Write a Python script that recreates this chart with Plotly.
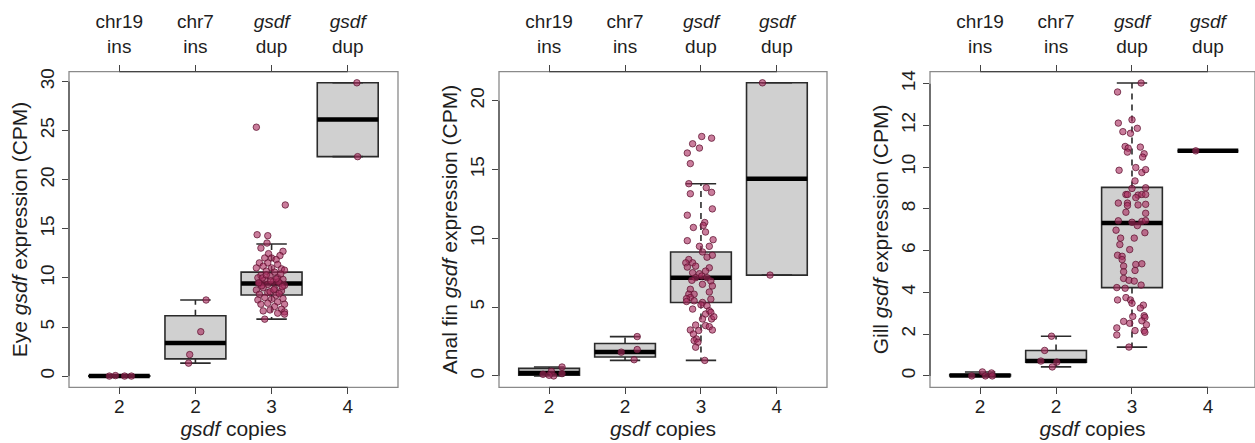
import plotly.graph_objects as go

# ---------------- data ----------------
top_labels = ["chr19<br>ins", "chr7<br>ins", "<i>gsdf</i><br>dup", "<i>gsdf</i><br>dup"]
copy_labels = ["2", "2", "3", "4"]
group_pos = [1, 2, 3, 4]
tissues = ["Eye", "Anal fin", "Gill"]

# box statistics (lower whisker, q1, median, q3, upper whisker)
eye_lo = [0.0, 1.32, 5.80, 22.35]
eye_q1 = [0.0, 1.75, 8.26, 22.35]
eye_med = [0.0, 3.37, 9.44, 26.13]
eye_q3 = [0.03, 6.14, 10.59, 29.87]
eye_hi = [0.03, 7.75, 13.45, 29.87]

anal_lo = [0.0, 1.13, 1.13, 7.33]
anal_q1 = [0.05, 1.375, 5.34, 7.33]
anal_med = [0.22, 1.74, 7.14, 14.33]
anal_q3 = [0.55, 2.36, 9.01, 21.30]
anal_hi = [0.65, 2.86, 13.97, 21.30]

gill_lo = [0.0, 0.43, 1.38, 10.78]
gill_q1 = [0.0, 0.66, 4.23, 10.78]
gill_med = [0.02, 0.71, 7.32, 10.78]
gill_q3 = [0.06, 1.22, 9.03, 10.78]
gill_hi = [0.19, 1.90, 14.03, 10.78]

# individual samples: values and horizontal jitter, per group
eye_vals = [
    [0.0, 0.05, 0.0, 0.0],
    [7.75, 4.52, 2.19, 1.32],
    [25.35, 17.43, 14.4, 14.3, 13.55, 13.04, 12.71, 12.47, 12.27, 12.03, 12.03, 11.87, 11.53, 11.53,
     11.36, 11.19, 11.02, 11.02, 10.92, 10.69, 10.59, 10.79, 10.25, 10.18, 10.01, 10.01, 9.85, 9.78,
     9.58, 9.44, 9.34, 9.44, 9.24, 9.0, 8.9, 8.77, 8.67, 8.5, 8.33, 8.23, 8.0, 7.83, 7.89, 7.76,
     7.55, 7.42, 7.32, 7.32, 7.08, 6.81, 6.74, 6.54, 6.64, 6.41, 6.31, 5.8,
     9.6, 9.2, 10.4, 8.6, 9.9, 10.0, 8.4, 9.1, 10.3, 9.5, 8.8, 9.7],
    [29.87, 22.35],
]
eye_jit = [
    [-0.13, -0.05, 0.07, 0.16],
    [0.14, 0.07, -0.075, -0.09],
    [-0.20, 0.18, -0.19, -0.05, -0.06, -0.14, 0.15, -0.04, 0.11, -0.09, 0.0, 0.06, -0.16, -0.05,
     0.08, -0.11, -0.20, 0.0, 0.13, -0.07, 0.04, 0.17, -0.14, -0.02, 0.08, -0.18, 0.15, -0.09,
     0.02, -0.16, -0.05, 0.11, 0.17, -0.11, 0.04, -0.20, 0.13, -0.05, -0.16, 0.06, -0.09, 0.0, 0.15, -0.18,
     0.08, -0.05, 0.17, -0.14, 0.04, 0.13, -0.02, 0.17, -0.11, 0.08, 0.17, -0.09,
     0.09, -0.13, 0.12, -0.02, 0.06, -0.12, 0.10, 0.14, -0.07, -0.17, 0.03, -0.01],
    [0.12, 0.13],
]

anal_vals = [
    [0.12, 0.34, 0.0, 0.65, 0.17, 0.05],
    [2.86, 1.73, 1.92, 1.18],
    [17.4, 17.28, 16.87, 16.56, 16.2, 15.43, 13.97, 13.68, 13.34, 13.24, 12.14, 11.68, 11.15, 10.94,
     10.79, 10.46, 9.83, 9.9, 9.42, 9.42, 9.01, 8.77, 8.63, 8.46, 8.22, 8.22, 7.98, 7.91, 7.86, 7.62,
     7.5, 7.43, 7.26, 7.14, 7.14, 6.9, 6.95, 6.66, 6.54, 6.1, 6.3, 5.94, 5.94, 5.7, 5.62, 5.46, 5.41,
     5.34, 5.58, 5.17, 4.86, 5.1, 4.74, 4.62, 4.5, 4.14, 4.3, 4.14, 3.66, 3.58, 3.7, 3.34, 3.34, 3.3,
     3.05, 2.69, 2.57, 2.45, 2.09, 1.13],
    [21.3, 7.33],
]
anal_jit = [
    [-0.08, 0.03, 0.06, 0.17, 0.17, 0.0],
    [0.16, -0.05, 0.16, 0.12],
    [0.01, 0.14, -0.11, -0.02, -0.18, -0.14, -0.16, 0.07, 0.14, -0.14, 0.15, -0.18, 0.05, 0.03,
     -0.10, 0.06, -0.18, 0.16, -0.02, 0.11, 0.02, 0.15, 0.08, -0.16, -0.11, -0.20, -0.07, -0.18, 0.11, 0.06,
     -0.11, -0.02, 0.01, -0.07, 0.08, 0.13, -0.12, 0.02, 0.15, 0.11, -0.14, -0.16, -0.09, -0.14, -0.19, -0.09, -0.19,
     0.02, 0.13, 0.0, -0.11, 0.08, 0.11, 0.13, 0.06, 0.14, 0.17, 0.02, 0.06, 0.11, -0.07, 0.15, -0.14, -0.03,
     -0.10, -0.06, -0.09, -0.04, -0.07, 0.05],
    [-0.19, -0.09],
]

gill_vals = [
    [0.0, 0.19, 0.0, 0.14, 0.0],
    [1.9, 1.22, 0.71, 0.66, 0.43],
    [14.03, 13.6, 12.27, 12.11, 11.86, 11.7, 11.62, 10.99, 10.91, 10.96, 10.72, 10.64, 10.48, 9.98,
     9.85, 9.74, 9.88, 9.34, 9.01, 8.98, 8.69, 8.69, 8.66, 8.69, 8.69, 8.54, 8.28, 8.28, 8.16, 8.19,
     8.22, 7.84, 7.79, 7.43, 7.4, 7.44, 7.36, 7.2, 6.98, 6.86, 6.6, 6.6, 6.29, 5.78, 5.73, 5.57, 5.37,
     5.34, 5.26, 6.05, 5.05, 4.99, 4.67, 4.58, 4.54, 4.35, 4.23, 4.2, 3.64, 3.75, 3.64, 3.48, 3.39,
     3.25, 2.85, 2.88, 2.8, 2.52, 2.61, 2.64, 2.45, 2.3, 2.17, 2.17, 2.09, 1.96, 1.38],
    [10.78],
]
gill_jit = [
    [-0.11, 0.03, 0.07, 0.15, 0.16],
    [-0.06, -0.15, -0.20, 0.01, -0.05],
    [0.12, -0.19, 0.0, -0.18, 0.07, -0.12, -0.02, -0.09, -0.05, 0.11, -0.06, 0.16, 0.14, 0.05,
     -0.17, 0.13, 0.18, 0.04, 0.18, 0.0, -0.08, -0.06, 0.08, 0.13, 0.18, 0.05, -0.18, -0.06, -0.06, 0.08,
     0.18, -0.08, 0.18, -0.18, 0.13, 0.18, 0.0, 0.07, -0.21, 0.17, -0.15, 0.03, -0.16, -0.19, -0.13, -0.13, 0.13,
     0.05, -0.11, -0.03, 0.04, -0.11, -0.11, -0.04, 0.03, 0.12, -0.20, -0.09, -0.19, -0.08, -0.02, 0.0, 0.15,
     0.11, 0.01, 0.16, 0.17, -0.03, -0.11, 0.13, 0.19, -0.20, 0.04, 0.16, 0.17, -0.20, -0.04],
    [-0.16],
]

y_ticks = [[0, 5, 10, 15, 20, 25, 30], [0, 5, 10, 15, 20], [0, 2, 4, 6, 8, 10, 12, 14]]
y_ranges = [[-1.15, 31.02], [-0.83, 22.12], [-0.55, 14.58]]
x_ranges = [[0.34, 4.66], [0.34, 4.66], [0.34, 4.62]]

panels = [
    dict(lo=eye_lo, q1=eye_q1, med=eye_med, q3=eye_q3, hi=eye_hi, vals=eye_vals, jit=eye_jit),
    dict(lo=anal_lo, q1=anal_q1, med=anal_med, q3=anal_q3, hi=anal_hi, vals=anal_vals, jit=anal_jit),
    dict(lo=gill_lo, q1=gill_q1, med=gill_med, q3=gill_q3, hi=gill_hi, vals=gill_vals, jit=gill_jit),
]

# ---------------- style ----------------
W, H = 1255, 443
FONT = "Liberation Sans"
TXT = "#1e1e1e"
FS = 19      # tick labels
FST = 21     # axis titles
BOX_HALF = 0.4
STAPLE_HALF = 0.2
x_domains = [[69 / W, 398 / W], [499 / W, 827 / W], [930 / W, 1.0]]
y_domain = [1 - 387 / H, 1 - 69 / H]
FRAME = "#8a8a8a"
AXC = "#444444"

fig = go.Figure()
shapes = []
layout = {}

for i, p in enumerate(panels):
    n = i + 1
    xa = "x" if n == 1 else f"x{n}"
    ya = "y" if n == 1 else f"y{n}"
    xt = f"x{n + 3}"

    # boxes
    fig.add_trace(go.Bar(
        x=group_pos, y=[b - a for a, b in zip(p["q1"], p["q3"])], base=p["q1"],
        width=2 * BOX_HALF, marker=dict(color="#d0d0d0", line=dict(color="#2b2b2b", width=1.6)),
        xaxis=xa, yaxis=ya, hoverinfo="skip"))

    # whiskers (dashed)
    wx, wy = [], []
    for g, lo, q1, q3, hi in zip(group_pos, p["lo"], p["q1"], p["q3"], p["hi"]):
        wx += [g, g, None, g, g, None]
        wy += [q3, hi, None, q1, lo, None]
    fig.add_trace(go.Scatter(x=wx, y=wy, mode="lines", line=dict(color="#2b2b2b", width=1.6, dash="6px,5px"),
                             xaxis=xa, yaxis=ya, hoverinfo="skip"))
    # staples
    sx, sy = [], []
    for g, lo, hi in zip(group_pos, p["lo"], p["hi"]):
        sx += [g - STAPLE_HALF, g + STAPLE_HALF, None, g - STAPLE_HALF, g + STAPLE_HALF, None]
        sy += [hi, hi, None, lo, lo, None]
    fig.add_trace(go.Scatter(x=sx, y=sy, mode="lines", line=dict(color="#2b2b2b", width=1.6),
                             xaxis=xa, yaxis=ya, hoverinfo="skip"))
    # medians
    mx, my = [], []
    for g, m in zip(group_pos, p["med"]):
        mx += [g - BOX_HALF, g + BOX_HALF, None]
        my += [m, m, None]
    fig.add_trace(go.Scatter(x=mx, y=my, mode="lines", line=dict(color="#000000", width=4.5),
                             xaxis=xa, yaxis=ya, hoverinfo="skip"))

    # points
    px, py = [], []
    for g, vals, jit in zip(group_pos, p["vals"], p["jit"]):
        px += [g + j for j in jit]
        py += vals
    fig.add_trace(go.Scatter(x=px, y=py, mode="markers",
                             marker=dict(size=6.5, color="rgba(170,45,95,0.62)",
                                         line=dict(color="rgba(95,20,50,0.75)", width=1)),
                             xaxis=xa, yaxis=ya, hoverinfo="skip"))
    # invisible trace on top axis
    fig.add_trace(go.Scatter(x=group_pos, y=[None] * 4, mode="markers", marker=dict(opacity=0),
                             xaxis=xt, yaxis=ya, hoverinfo="skip", showlegend=False))

    ax_common = dict(showgrid=False, zeroline=False, showline=False, ticks="outside", ticklen=6,
                     tickwidth=1.2, tickcolor=AXC, tickfont=dict(family=FONT, size=FS, color=TXT))
    layout["xaxis" if n == 1 else f"xaxis{n}"] = dict(
        ax_common, domain=x_domains[i], anchor=ya, range=x_ranges[i],
        tickmode="array", tickvals=group_pos, ticktext=copy_labels, ticklabelstandoff=-4,
        title=dict(text="<i>gsdf</i> copies", font=dict(family=FONT, size=FST, color=TXT), standoff=4))
    layout[f"xaxis{n + 3}"] = dict(
        ax_common, domain=x_domains[i], anchor=ya, overlaying=xa, side="top", range=x_ranges[i],
        tickmode="array", tickvals=group_pos, ticktext=top_labels, ticklabelstandoff=4)
    layout["yaxis" if n == 1 else f"yaxis{n}"] = dict(
        ax_common, domain=y_domain, anchor=xa, range=y_ranges[i],
        tickmode="array", tickvals=y_ticks[i], ticktext=[str(t) for t in y_ticks[i]], tickangle=-90,
        title=dict(text=f"{tissues[i]} <i>gsdf</i> expression (CPM)",
                   font=dict(family=FONT, size=FST, color=TXT), standoff=4))

    # frame
    shapes.append(dict(type="rect", xref=f"{xa} domain", yref=f"{ya} domain", x0=0, x1=1, y0=0, y1=1,
                       line=dict(color=FRAME, width=1.3), layer="above"))
    # axis lines spanning the ticks
    shapes.append(dict(type="line", xref=xa, yref=f"{ya} domain", x0=group_pos[0], x1=group_pos[-1],
                       y0=0, y1=0, line=dict(color=AXC, width=1.2), layer="above"))
    shapes.append(dict(type="line", xref=xa, yref=f"{ya} domain", x0=group_pos[0], x1=group_pos[-1],
                       y0=1, y1=1, line=dict(color=AXC, width=1.2), layer="above"))
    shapes.append(dict(type="line", xref=f"{xa} domain", yref=ya, x0=0, x1=0,
                       y0=y_ticks[i][0], y1=y_ticks[i][-1], line=dict(color=AXC, width=1.2), layer="above"))

fig.update_layout(**layout)
fig.update_layout(width=W, height=H, margin=dict(l=0, r=0, t=0, b=0), autosize=False,
                  plot_bgcolor="white", paper_bgcolor="white", showlegend=False, shapes=shapes,
                  barmode="overlay", font=dict(family=FONT, size=FS, color=TXT))
fig.write_html("out.html")
